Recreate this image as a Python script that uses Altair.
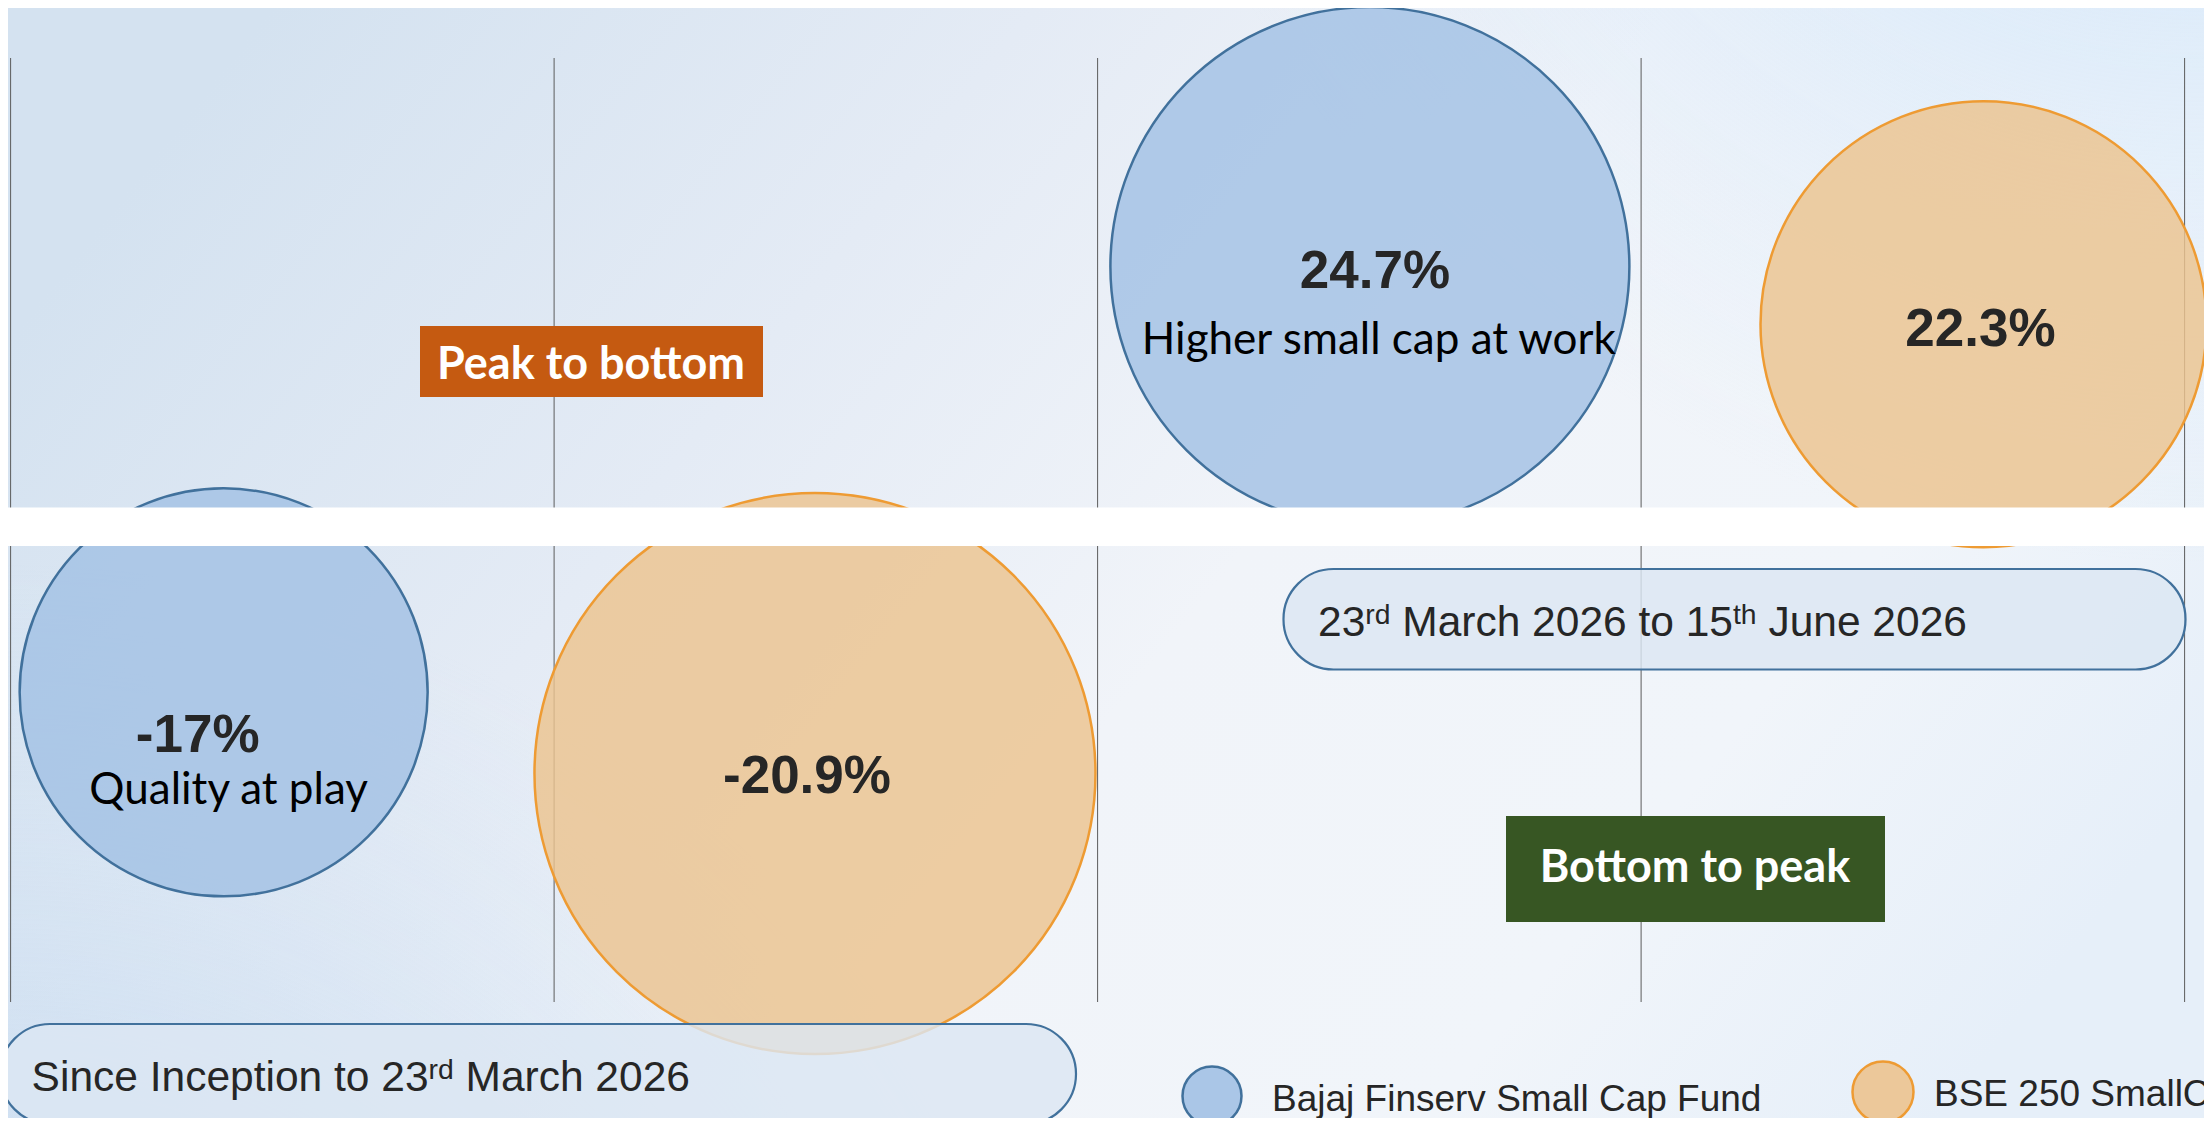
import altair as alt
import pandas as pd

# ---------------- values ----------------
series_names = ["Bajaj Finserv Small Cap Fund", "BSE 250 SmallCap Index"]
bubble_series = [series_names[0], series_names[1], series_names[0], series_names[1]]
bubble_returns = [-17.0, -20.9, 24.7, 22.3]
bubble_notes = ["Quality at play", "", "Higher small cap at work", ""]
# bubble-chart coordinates (vertical gridlines at x = 0..4, plot from y = 0 to 10)
bubble_x = [0.392, 1.480, 2.501, 3.630]
bubble_y = [3.28, 2.42, 7.79, 7.18]
bubble_diameter = [408, 561, 519, 446]
x_gridlines = [0, 1, 2, 3, 4]
phase_names = ["Peak to bottom", "Bottom to peak"]
period_1 = [("Since Inception to 23", False), ("rd", True), (" March 2026", False)]
period_2 = [("23", False), ("rd", True), (" March 2026 to 15", False), ("th", True), (" June 2026", False)]

# ---------------- styling / layout ----------------
W, H = 2196, 1110
PX_U, PX_V = 543.5, 94.4


def ux(X):  # page pixel -> x units
    return (X - 10.6) / PX_U


def uy(Y):  # page pixel -> y units
    return (1002 - Y) / PX_V


XDOM = [ux(8), ux(8 + W)]
YDOM = [uy(8 + H), uy(8)]
XS = alt.Scale(domain=XDOM, nice=False, zero=False)
YS = alt.Scale(domain=YDOM, nice=False, zero=False)

FILLS = ["#a2c1e4", "#ecc38f"]
STROKES = ["#41719c", "#ee9b33"]
ARIAL = "Liberation Sans, Arial, sans-serif"
CALI = "Lato, Open Sans, sans-serif"
TXT = "#262626"


def X(f="x"):
    return alt.X(f"{f}:Q", scale=XS, axis=None)


def Y(f="y"):
    return alt.Y(f"{f}:Q", scale=YS, axis=None)


fill_enc = alt.Fill("series:N", scale=alt.Scale(domain=series_names, range=FILLS), legend=None)
stroke_enc = alt.Stroke("series:N", scale=alt.Scale(domain=series_names, range=STROKES), legend=None)

# background
full = pd.DataFrame({"x": [XDOM[0]], "x2": [XDOM[1]], "y": [YDOM[0]], "y2": [YDOM[1]]})
bg_lin = {"gradient": "linear", "x1": 0, "y1": 0.3, "x2": 1, "y2": 0.7,
          "stops": [{"offset": 0, "color": "#d4e2f0"},
                    {"offset": 0.3, "color": "#e4ebf5"},
                    {"offset": 0.55, "color": "#f1f4f9"},
                    {"offset": 0.8, "color": "#f1f5fa"},
                    {"offset": 1, "color": "#e6eff9"}]}
bg_bl = {"gradient": "radial", "x1": 0, "y1": 1, "r1": 0, "x2": 0, "y2": 1, "r2": 0.5,
         "stops": [{"offset": 0, "color": "rgba(160,200,234,1)"},
                   {"offset": 0.5, "color": "rgba(190,215,240,0.45)"},
                   {"offset": 1, "color": "rgba(200,222,242,0)"}]}
bg_tr = {"gradient": "radial", "x1": 1, "y1": 0, "r1": 0, "x2": 1, "y2": 0, "r2": 0.5,
         "stops": [{"offset": 0, "color": "rgba(188,219,250,1)"},
                   {"offset": 0.5, "color": "rgba(205,228,250,0.5)"},
                   {"offset": 1, "color": "rgba(214,232,250,0)"}]}


def full_rect(fill):
    return alt.Chart(full).mark_rect(fill=fill).encode(x=X("x"), x2="x2", y=Y("y"), y2="y2")


bg = [full_rect(bg_lin), full_rect(bg_bl), full_rect(bg_tr)]

# gridlines
grid_df = pd.DataFrame({"x": x_gridlines, "y": [0] * 5, "y2": [10] * 5})
grid = alt.Chart(grid_df).mark_rule(color="#5c5c5c", strokeWidth=1).encode(x=X("x"), y=Y("y"), y2="y2")

# bubbles
bub = pd.DataFrame({"series": bubble_series, "x": bubble_x, "y": bubble_y,
                    "d2": [d * d for d in bubble_diameter]})
bubbles = alt.Chart(bub).mark_circle(opacity=1, fillOpacity=0.82, strokeWidth=2.5).encode(
    x=X(), y=Y(), size=alt.Size("d2:Q", scale=None, legend=None), fill=fill_enc, stroke=stroke_enc)

# white band across the picture
band_df = pd.DataFrame({"x": [XDOM[0]], "x2": [XDOM[1]], "y": [uy(546)], "y2": [uy(507.5)]})
band = alt.Chart(band_df).mark_rect(fill="white").encode(x=X("x"), x2="x2", y=Y("y"), y2="y2")

# phase boxes
box_df = pd.DataFrame({"name": phase_names, "color": ["#c55a11", "#375623"],
                       "x": [ux(420), ux(1506)], "x2": [ux(763), ux(1885)],
                       "y": [uy(397), uy(922)], "y2": [uy(326), uy(816)],
                       "tx": [ux(591), ux(1695)], "ty": [uy(379), uy(882)]})
boxes = alt.Chart(box_df).mark_rect().encode(
    x=X("x"), x2="x2", y=Y("y"), y2="y2", fill=alt.Fill("color:N", scale=None))
box_text = alt.Chart(box_df).mark_text(font=CALI, fontSize=45, fontWeight="bold", color="white",
                                       align="center", baseline="alphabetic").encode(
    x=X("tx"), y=Y("ty"), text="name:N")

# period pills
pill_df = pd.DataFrame({"x": [ux(0), ux(1283.5)], "x2": [ux(1076), ux(2185.5)],
                        "y": [uy(1124), uy(669.5)], "y2": [uy(1024), uy(569)]})
pills = alt.Chart(pill_df).mark_rect(cornerRadius=50, fill="#dce7f3", fillOpacity=0.82,
                                      stroke="#41719c", strokeWidth=2.2).encode(
    x=X("x"), x2="x2", y=Y("y"), y2="y2")

AW = {" ": 278, "S": 667, "i": 222, "n": 556, "c": 500, "e": 556, "I": 278, "p": 556, "t": 278,
      "o": 556, "r": 333, "d": 556, "M": 833, "a": 556, "h": 556, "J": 500, "u": 556}
MAIN, SUP, RAISE = 42.5, 28.3, 12


def tw(s, size):
    return sum(AW.get(ch, 556) for ch in s) * size / 1000.0


def layout(segments, x0, base):
    rows = []
    x = x0
    for text, sup in segments:
        size = SUP if sup else MAIN
        lead = len(text) - len(text.lstrip())
        rows.append({"x": ux(x + tw(text[:lead], size)), "y": uy(base - (RAISE if sup else 0)),
                     "text": text.strip(), "sup": sup})
        x += tw(text, size)
    return rows


seg_df = pd.DataFrame(layout(period_1, 31.6, 1090.7) + layout(period_2, 1318, 636))
pill_main = alt.Chart(seg_df[~seg_df["sup"]]).mark_text(
    font=ARIAL, fontSize=MAIN, color=TXT, align="left", baseline="alphabetic").encode(
    x=X(), y=Y(), text="text:N")
pill_sup = alt.Chart(seg_df[seg_df["sup"]]).mark_text(
    font=ARIAL, fontSize=SUP, color=TXT, align="left", baseline="alphabetic").encode(
    x=X(), y=Y(), text="text:N")

# bubble labels (offsets in px from bubble centre)
val_off = [(-26, 60), (-8, 19), (5, 21.5), (-3, 22)]
note_off = [(5, 112), (0, 0), (9, 87), (0, 0)]
vl = pd.DataFrame({"x": [bx + o[0] / PX_U for bx, o in zip(bubble_x, val_off)],
                   "y": [by - o[1] / PX_V for by, o in zip(bubble_y, val_off)],
                   "label": [f"{v:g}%" for v in bubble_returns]})
nl = pd.DataFrame({"x": [bx + o[0] / PX_U for bx, o in zip(bubble_x, note_off)],
                   "y": [by - o[1] / PX_V for by, o in zip(bubble_y, note_off)],
                   "note": bubble_notes})
nl = nl[nl["note"] != ""]
val_text = alt.Chart(vl).mark_text(font=ARIAL, fontSize=53, fontWeight="bold", color=TXT,
                                   align="center", baseline="alphabetic").encode(
    x=X(), y=Y(), text="label:N")
note_text = alt.Chart(nl).mark_text(font=CALI, fontSize=44, color="black",
                                    align="center", baseline="alphabetic").encode(
    x=X(), y=Y(), text="note:N")

# legend
leg = pd.DataFrame({"series": series_names, "x": [ux(1212), ux(1883)], "y": [uy(1096), uy(1092)],
                    "d2": [59 * 59, 61 * 61], "tx": [ux(1272), ux(1934)], "ty": [uy(1110.5), uy(1106)]})
leg_pts = alt.Chart(leg).mark_circle(opacity=1, fillOpacity=0.9, strokeWidth=2.5).encode(
    x=X(), y=Y(), size=alt.Size("d2:Q", scale=None, legend=None), fill=fill_enc, stroke=stroke_enc)
leg_text = alt.Chart(leg).mark_text(font=ARIAL, fontSize=37, color=TXT, align="left",
                                    baseline="alphabetic").encode(
    x=X("tx"), y=Y("ty"), text="series:N")

chart = alt.layer(*bg, grid, bubbles, band, boxes, box_text, pills, pill_main, pill_sup,
                  val_text, note_text, leg_pts, leg_text).properties(
    width=W, height=H, padding=0, autosize=alt.AutoSizeParams(type="none"),
    background="white").configure_view(stroke=None)

chart.save("out.html", embed_options={"renderer": "svg", "actions": False})
